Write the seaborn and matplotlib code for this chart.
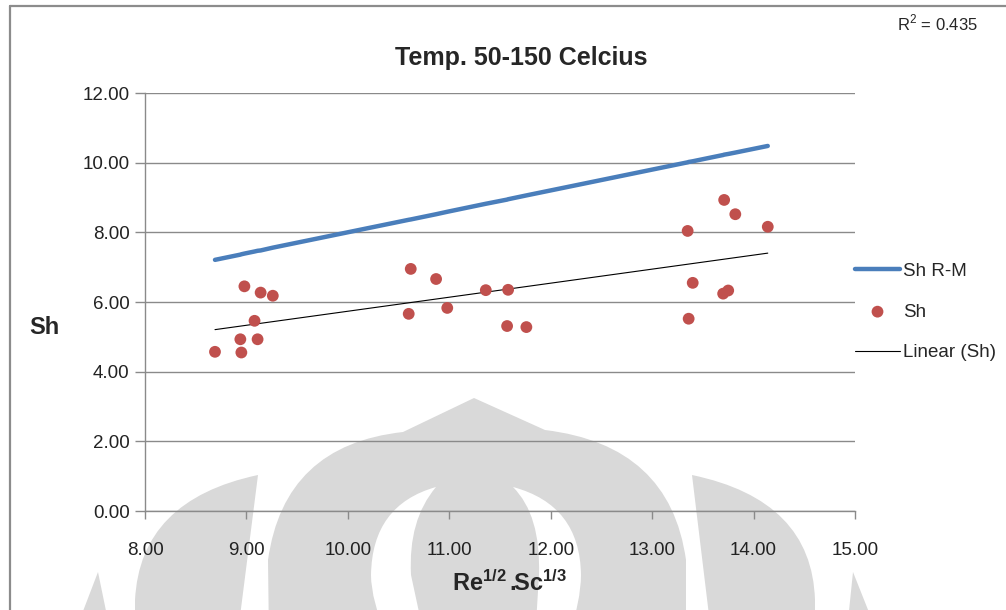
import numpy as np
import pandas as pd
import matplotlib
matplotlib.use("Agg")
import matplotlib.pyplot as plt
from matplotlib.patches import PathPatch
from matplotlib.path import Path
from matplotlib.lines import Line2D
import seaborn as sns

# ── data ──
re_sc = [8.69, 8.94, 8.95, 8.98, 9.08, 9.11, 9.14, 9.26,
         10.60, 10.62, 10.87, 10.98, 11.36, 11.57, 11.58, 11.76,
         13.35, 13.36, 13.40, 13.70, 13.71, 13.75, 13.82, 14.14]
sh = [4.57, 4.93, 4.55, 6.45, 5.46, 4.93, 6.27, 6.18,
      5.66, 6.95, 6.66, 5.83, 6.34, 5.31, 6.35, 5.28,
      8.04, 5.52, 6.55, 6.24, 8.93, 6.33, 8.52, 8.16]
sh_rm = [7.21, 7.36, 7.37, 7.39, 7.45, 7.47, 7.48, 7.56,
         8.36, 8.37, 8.52, 8.59, 8.82, 8.94, 8.95, 9.06,
         10.01, 10.02, 10.04, 10.22, 10.23, 10.25, 10.29, 10.48]
x_ticks = [8, 9, 10, 11, 12, 13, 14, 15]
y_ticks = [0, 2, 4, 6, 8, 10, 12]
title = "Temp. 50-150 Celcius"
r2_text = "R$^2$ = 0.435"

df = pd.DataFrame({"x": re_sc, "sh": sh, "sh_rm": sh_rm})

BLUE = "#4a7ebb"
RED = "#c0504d"
GRID = "#8a8a8a"
W, H = 1006, 610

sns.set_theme(style="white")
plt.rcParams["font.family"] = ["Liberation Sans", "DejaVu Sans"]
plt.rcParams["mathtext.fontset"] = "custom"
plt.rcParams["mathtext.rm"] = "Liberation Sans"
plt.rcParams["mathtext.bf"] = "Liberation Sans:bold"

fig = plt.figure(figsize=(W / 100, H / 100), dpi=100)
fig.patch.set_facecolor("white")


def shape(cmds, color, z):
    # cmds: ("M", p) / ("L", p) / ("Q", ctrl, p); points in pixels from top-left
    verts, codes = [], []
    for c in cmds:
        pts = [(x / W, 1 - y / H) for x, y in c[1:]]
        if c[0] == "M":
            verts += pts; codes += [Path.MOVETO]
        elif c[0] == "L":
            verts += pts; codes += [Path.LINETO]
        else:
            verts += pts; codes += [Path.CURVE3, Path.CURVE3]
    verts.append(verts[0]); codes.append(Path.CLOSEPOLY)
    fig.add_artist(PathPatch(Path(verts, codes), transform=fig.transFigure,
                             facecolor=color, edgecolor="none", zorder=z))


# ── background watermark (light gray shapes) ──
WM = "#d9d9d9"
shape([("M", (269, 640)), ("L", (268, 560)), ("Q", (284, 445), (403, 432)),
       ("L", (474, 398)), ("L", (545, 430)), ("Q", (670, 445), (686, 560)),
       ("L", (686, 640))], WM, -5)
shape([("M", (258, 475)), ("L", (237, 640)), ("L", (135, 640)), ("L", (135, 600)),
       ("Q", (140, 500), (258, 475))], WM, -5)
shape([("M", (692, 475)), ("Q", (812, 500), (815, 600)), ("L", (815, 640)),
       ("L", (712, 640))], WM, -5)
shape([("M", (98, 572)), ("L", (112, 640)), ("L", (72, 640))], WM, -5)
shape([("M", (853, 572)), ("L", (880, 640)), ("L", (846, 640))], WM, -5)
# white crescents inside the dome
shape([("M", (436, 487)), ("Q", (372, 505), (371, 575)), ("Q", (371, 600), (388, 640)),
       ("L", (425, 640)), ("L", (411, 575)), ("Q", (408, 520), (436, 487))], "white", -4)
shape([("M", (513, 487)), ("Q", (580, 505), (581, 575)), ("Q", (581, 600), (568, 640)),
       ("L", (535, 640)), ("L", (539, 575)), ("Q", (541, 515), (513, 487))], "white", -4)

# chart frame
fig.add_artist(Line2D([10 / W, 1], [1 - 6 / H, 1 - 6 / H], transform=fig.transFigure,
                      color="#8c8c8c", lw=1.6))
fig.add_artist(Line2D([10 / W, 10 / W], [0, 1 - 6 / H], transform=fig.transFigure,
                      color="#8c8c8c", lw=1.6))

ax = fig.add_axes([145 / W, 1 - 511 / H, 710 / W, 418 / H])
ax.set_facecolor("none")

sns.lineplot(data=df, x="x", y="sh_rm", ax=ax, color=BLUE, lw=3.2,
             label="Sh R-M", sort=False, zorder=3)
sns.scatterplot(data=df, x="x", y="sh", ax=ax, color=RED, s=72,
                edgecolor="none", label="Sh", zorder=4)
n_lines = len(ax.lines)
sns.regplot(data=df, x="x", y="sh", ax=ax, scatter=False, ci=None, truncate=True,
            line_kws={"color": "black", "lw": 0.8, "zorder": 3})
trend = ax.lines[n_lines]

ax.set_xlim(8, 15)
ax.set_ylim(0, 12)
ax.set_xticks(x_ticks)
ax.set_yticks(y_ticks)
ax.set_xticklabels([f"{v:.2f}" for v in x_ticks])
ax.set_yticklabels([f"{v:.2f}" for v in y_ticks])
ax.yaxis.grid(True, color=GRID, lw=1.0)
ax.xaxis.grid(False)
for side in ("top", "right"):
    ax.spines[side].set_visible(False)
for side in ("left", "bottom"):
    ax.spines[side].set_color(GRID)
    ax.spines[side].set_linewidth(1.0)
ax.tick_params(axis="x", direction="out", length=6, width=1, color=GRID,
               pad=16, labelsize=13.5, labelcolor="#222222", bottom=True)
ax.tick_params(axis="y", direction="out", length=7, width=1, color=GRID,
               pad=4, labelsize=13.5, labelcolor="#222222", left=True)

ax.set_xlabel(r"$\mathbf{Re^{1/2}\,.\!\!Sc^{1/3}}$", fontsize=17)
ax.xaxis.set_label_coords(0.514, -0.143)
ax.set_ylabel("Sh", fontsize=17, fontweight="bold", rotation=0, ha="center", va="center")
ax.yaxis.set_label_coords(-0.141, 0.44)

fig.text(521 / W, 1 - 58 / H, title, ha="center", va="center",
         fontsize=18, fontweight="bold")
fig.text(937 / W, 1 - 23 / H, r2_text, ha="center", va="center", fontsize=12)

handles, labels = ax.get_legend_handles_labels()
order = [labels.index(l) for l in ("Sh R-M", "Sh")]
ax.legend([handles[i] for i in order] + [trend],
          [labels[i] for i in order] + ["Linear (Sh)"],
          loc="center left", bbox_to_anchor=(1.0, 0.476), frameon=False,
          borderaxespad=0, borderpad=0, handlelength=2.4, handletextpad=0.15,
          labelspacing=1.25, fontsize=13.5)

fig.savefig("out.png", dpi=100, facecolor="white")
